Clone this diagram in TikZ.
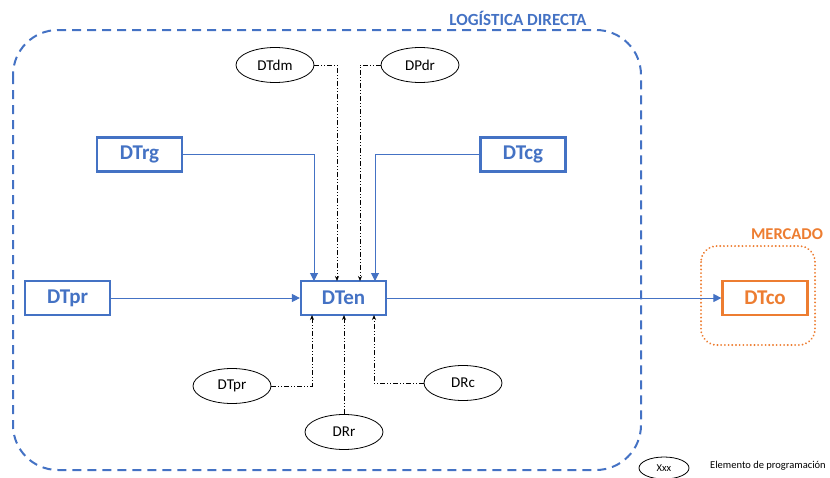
\documentclass[tikz,border=0pt]{standalone}
\usepackage{fontspec}
\setmainfont{Carlito}
\usetikzlibrary{shapes.geometric,arrows.meta}
\definecolor{bl}{RGB}{68,114,196}
\definecolor{orng}{RGB}{237,125,49}
\begin{document}
\begin{tikzpicture}[x=1pt,y=-1pt,
  bbox/.style={draw=bl,line width=2.2pt,fill=white,minimum width=85pt,minimum height=34pt,text=bl,font=\fontsize{21}{24}\selectfont\bfseries,inner sep=0pt},
  obox/.style={bbox,draw=orng,text=orng},
  prog/.style={ellipse,draw=black,line width=0.8pt,minimum width=78pt,minimum height=35pt,font=\fontsize{15}{18}\selectfont,inner sep=0pt},
  flow/.style={draw=bl,line width=1pt,-{Triangle[length=8pt,width=8pt]}},
  ctrl/.style={draw=black,line width=0.8pt,dash pattern=on 5pt off 2pt on 1pt off 2pt on 1pt off 2pt,-{Stealth[length=5pt,width=4pt]}}
]
\useasboundingbox (0,0) rectangle (830,477);
% frames
\draw[bl,line width=2pt,dash pattern=on 9pt off 6pt,rounded corners=45pt] (13,30) rectangle (641,470);
\node[text=bl,font=\fontsize{17}{20}\selectfont\bfseries] (tld) at (518,18) {LOGÍSTICA DIRECTA};
\draw[orng,line width=2pt,dash pattern=on 0.1pt off 3.6pt,line cap=round,rounded corners=16pt] (701,246) rectangle (815,345);
\node[text=orng,font=\fontsize{16.5}{20}\selectfont\bfseries] (tmer) at (787,234) {MERCADO};
% boxes
\node[bbox] (rg) at (139.5,154.5) {DTrg};
\node[bbox] (cg) at (523,154.5) {DTcg};
\node[bbox] (pr) at (67.5,298) {DTpr};
\node[bbox] (en) at (343.5,298) {DTen};
\node[obox] (co) at (765,298) {DTco};
% ellipses
\node[prog] (dm) at (275,65) {DTdm};
\node[prog] (pd) at (420,65) {DPdr};
\node[prog] (epr) at (232,386) {DTpr};
\node[prog] (rr) at (344,432) {DRr};
\node[prog] (rc) at (463,383) {DRc};
\node[prog,minimum width=50pt,minimum height=22pt,font=\fontsize{10.5}{12}\selectfont] (lg) at (664,468) {Xxx};
\node[anchor=west,font=\fontsize{10.5}{12}\selectfont,inner sep=0pt] (lgt) at (710,466) {Elemento de programación};
% flows
\draw[flow] (rg.east) -| (314,281);
\draw[flow] (cg.west) -| (375,281);
\draw[flow] (pr.east) -- (en.west);
\draw[flow] (en.east) -- (co.west);
% control
\draw[ctrl] (dm.east) -| (337,281);
\draw[ctrl] (pd.west) -| (360,281);
\draw[ctrl] (epr.east) -| (312,315);
\draw[ctrl] (rr.north) -- (344,315);
\draw[ctrl] (rc.west) -| (374,315);
\end{tikzpicture}
\end{document}
